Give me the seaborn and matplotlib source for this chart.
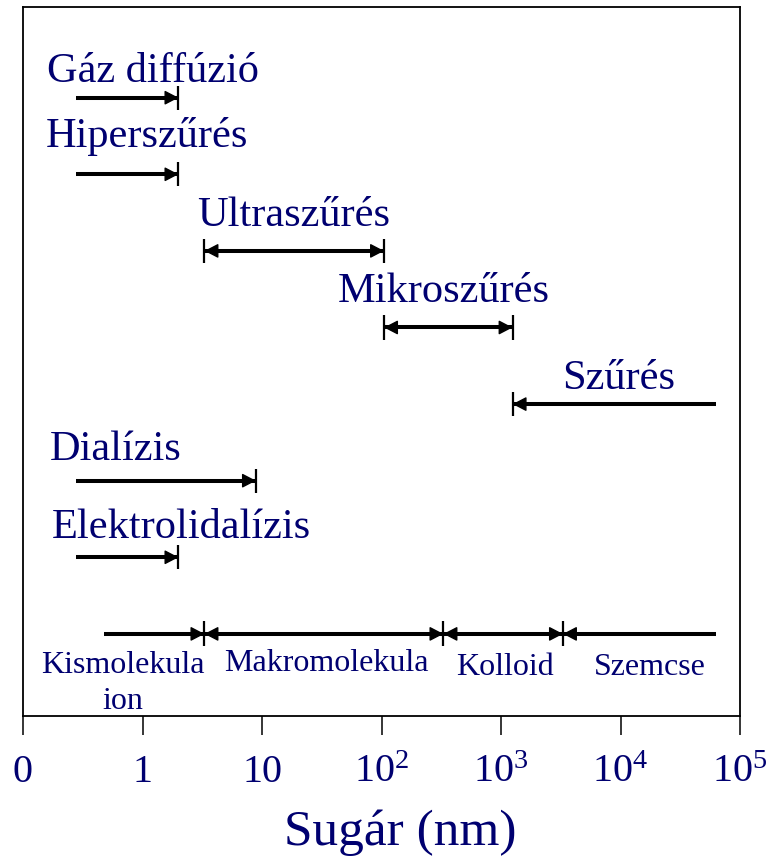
import numpy as np
import pandas as pd
import matplotlib
matplotlib.use("Agg")
import matplotlib.pyplot as plt
import seaborn as sns

# ---------------- data ----------------
methods = ["Gáz diffúzió", "Hiperszűrés", "Ultraszűrés", "Mikroszűrés",
           "Szűrés", "Dialízis", "Elektrolidalízis"]
method_lo = [0.28, 0.28, 3.3, 105, 1250, 0.28, 0.28]      # nm
method_hi = [2.0, 2.0, 105, 1250, 63000, 8.9, 2.0]        # nm
method_ends = ["right", "right", "both", "both", "left", "right", "right"]

size_classes = ["Kismolekula\nion", "Makromolekula", "Kolloid", "Szemcse"]
size_bounds = [0.48, 3.3, 330, 3300, 63000]               # nm

tick_values = [0.1, 1, 10, 100, 1e3, 1e4, 1e5]
tick_labels = ["0", "1", "10", "$10^2$", "$10^3$", "$10^4$", "$10^5$"]
x_label = "Sugár (nm)"

# ---------------- layout (not data) ----------------
method_label_x = [0.158, 0.156, 2.86, 43.3, 3220, 0.168, 0.174]
method_label_dy = [0.21, 0.35, 0.33, 0.33, 0.20, 0.27, 0.25]
class_label_x = [0.68, 34.3, 1080, 17660]
class_label_dy = [0.98, 0.48, 0.54, 0.54]

NAVY = "#000070"
sns.set_theme(style="ticks")
plt.rcParams["font.family"] = ["Liberation Serif", "DejaVu Serif"]
plt.rcParams["mathtext.fontset"] = "custom"
plt.rcParams["mathtext.rm"] = "Liberation Serif"
plt.rcParams["mathtext.it"] = "Liberation Serif:italic"

fig = plt.figure(figsize=(7.8, 8.63), dpi=100)
ax = fig.add_axes([23 / 780, 1 - 716 / 863, 717 / 780, 709 / 863])
ax.set_xscale("log")

# segment table
rows = []
seg = 0
for i, (lo, hi) in enumerate(zip(method_lo, method_hi)):
    rows += [dict(x=lo, y=i, seg=seg), dict(x=hi, y=i, seg=seg)]
    seg += 1
bottom_row = len(methods)
for lo, hi in zip(size_bounds[:-1], size_bounds[1:]):
    rows += [dict(x=lo, y=bottom_row, seg=seg), dict(x=hi, y=bottom_row, seg=seg)]
    seg += 1
df = pd.DataFrame(rows)

sns.lineplot(data=df, x="x", y="y", units="seg", estimator=None, sort=False,
             color="black", lw=2.9, ax=ax, legend=False, solid_capstyle="butt")

head = dict(arrowstyle="-|>,head_length=0.5,head_width=0.26", mutation_scale=17,
            lw=1, color="black", shrinkA=0, shrinkB=0)


def arrow_head(x, y, direction):
    src = x / 1.6 if direction == "right" else x * 1.6
    ax.annotate("", xy=(x, y), xytext=(src, y), arrowprops=head)


def end_bar(x, y, h):
    ax.vlines(x, y - h, y + h, color="black", lw=1.6)


for i, (lo, hi, ends) in enumerate(zip(method_lo, method_hi, method_ends)):
    if ends in ("right", "both"):
        arrow_head(hi, i, "right")
        end_bar(hi, i, 0.157)
    if ends in ("left", "both"):
        arrow_head(lo, i, "left")
        end_bar(lo, i, 0.157)
    ax.text(method_label_x[i], i - method_label_dy[i], methods[i],
            fontsize=30.5, color=NAVY, ha="left", va="baseline")

inner = size_bounds[1:-1]
arrow_head(size_bounds[1], bottom_row, "right")
for k, b in enumerate(inner):
    if k > 0:
        arrow_head(b, bottom_row, "right")
    arrow_head(b, bottom_row, "left")
    end_bar(b, bottom_row, 0.163)

for name, xc, dy in zip(size_classes, class_label_x, class_label_dy):
    ax.text(xc, bottom_row + dy, name, fontsize=23, color=NAVY,
            ha="center", va="baseline", multialignment="center", linespacing=1.3)

# axes formatting
ax.set_xlim(0.1, 1e5)
ax.set_ylim(8.072, -1.184)
ax.set_yticks([])
ax.set_ylabel("")
ax.set_xticks(tick_values)
ax.set_xticklabels(tick_labels)
ax.xaxis.set_minor_locator(matplotlib.ticker.NullLocator())
ax.tick_params(axis="x", direction="out", length=13.7, width=1.1, pad=34,
               labelsize=29, labelcolor=NAVY, color="black")
for lbl in ax.get_xticklabels():
    lbl.set_verticalalignment("baseline")
for s in ax.spines.values():
    s.set_visible(True)
    s.set_color("black")
    s.set_linewidth(1.3)

ax.set_xlabel(x_label, fontsize=37, color=NAVY)
ax.xaxis.set_label_coords((400 - 23) / 717, (716 - 845) / 709)
ax.xaxis.label.set_verticalalignment("baseline")

fig.savefig("out.png", dpi=100, facecolor="white")
